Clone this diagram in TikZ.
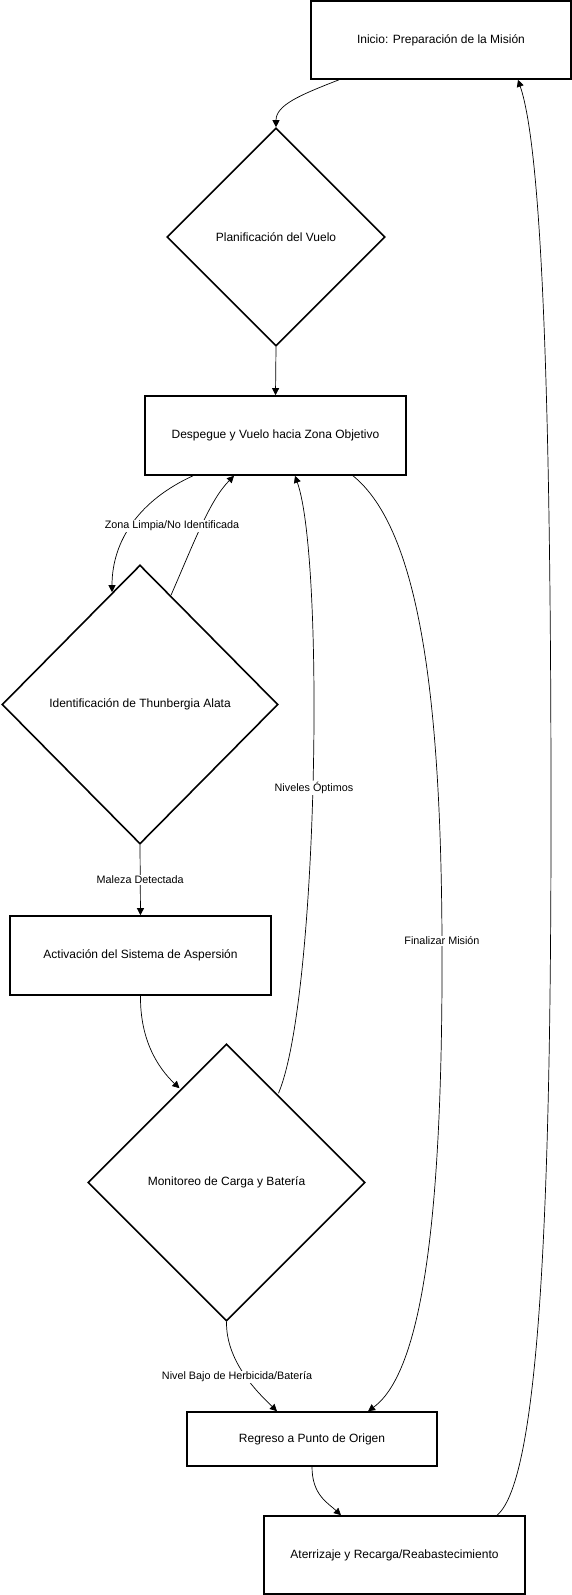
\documentclass[tikz,border=0pt]{standalone}
\usepackage{fontspec}
\setmainfont{Liberation Sans}
\usetikzlibrary{arrows.meta,shapes.geometric}
\begin{document}
\begin{tikzpicture}[x=1pt,y=-1pt,
  box/.style={draw,line width=1.6pt,rectangle,inner sep=0pt,font=\fontsize{12}{14}\selectfont},
  dia/.style={draw,line width=1.6pt,diamond,aspect=1,inner sep=0pt,font=\fontsize{12}{14}\selectfont},
  edge/.style={line width=0.7pt,-{Triangle[length=7pt,width=7pt]}},
  lbl/.style={fill=white,inner sep=1pt,font=\fontsize{10.8}{13}\selectfont}]
\useasboundingbox (0,0) rectangle (572,1595);
\node[box,minimum width=260pt,minimum height=78pt] (ini) at (441,40) {Inicio: Preparación de la Misión};
\node[dia,minimum width=218pt,minimum height=218pt] (plan) at (276,237) {Planificación del Vuelo};
\node[box,minimum width=261pt,minimum height=79pt] (desp) at (275.5,435.5) {Despegue y Vuelo hacia Zona Objetivo};
\node[dia,minimum width=276pt,minimum height=279pt] (ident) at (140,704.5) {Identificación de Thunbergia Alata};
\node[box,minimum width=261pt,minimum height=79pt] (act) at (140.5,955.5) {Activación del Sistema de Aspersión};
\node[dia,minimum width=277pt,minimum height=277pt] (mon) at (226.5,1182.5) {Monitoreo de Carga y Batería};
\node[box,minimum width=250pt,minimum height=54pt] (reg) at (312,1439) {Regreso a Punto de Origen};
\node[box,minimum width=261pt,minimum height=78pt] (ate) at (394.5,1555) {Aterrizaje y Recarga/Reabastecimiento};

% Inicio -> Planificacion
\draw[edge] ([xshift=-102pt]ini.south) .. controls (300,95) and (276,105) .. (plan.north);
% Planificacion -> Despegue
\draw[edge] (plan.south) -- (desp.north);
% Despegue -> Identificacion
\draw[edge] ([xshift=-82.5pt]desp.south) .. controls (140,500) and (112,540) .. ([xshift=-28pt,yshift=-28pt]ident.north);
% Identificacion -> Despegue
\draw[edge] ([xshift=31pt,yshift=-31pt]ident.north) .. controls (195,540) and (210,500) .. ([xshift=-41.5pt]desp.south);
\node[lbl] (lz) at (172,526) {Zona Limpia/No Identificada};
% Identificacion -> Activacion
\draw[edge] (ident.south) -- node[lbl,pos=0.5] {Maleza Detectada} (act.north);
% Activacion -> Monitoreo
\draw[edge] (act.south) .. controls (140,1040) and (158,1068) .. ([xshift=-47pt,yshift=-45pt]mon.north);
% Monitoreo -> Despegue
\draw[edge] ([xshift=52pt,yshift=-50pt]mon.north) .. controls (318,1000) and (325,560) .. ([xshift=19.5pt]desp.south);
\node[lbl] (lno) at (314,788) {Niveles Óptimos};
% Despegue -> Regreso
\coordinate (fm) at (442,941);
\draw[edge] ([xshift=77.5pt]desp.south) .. controls (420,530) and (441,700) .. (fm) .. controls (443,1200) and (425,1370) .. ([xshift=56pt]reg.north);
\node[lbl] (lfm) at (fm) {Finalizar Misión};
% Monitoreo -> Regreso
\draw[edge] (mon.south) .. controls (226,1360) and (255,1390) .. ([xshift=-35pt]reg.north);
\node[lbl] (lnb) at (237,1377) {Nivel Bajo de Herbicida/Batería};
% Regreso -> Aterrizaje
\draw[edge] (reg.south) .. controls (312,1495) and (328,1503) .. ([xshift=-53.5pt]ate.north);
% Aterrizaje -> Inicio
\coordinate (lp) at (551,814);
\draw[edge] ([xshift=102.5pt]ate.north) .. controls (540,1480) and (551,1200) .. (lp) .. controls (551,400) and (542,150) .. ([xshift=77pt]ini.south);
\end{tikzpicture}
\end{document}
